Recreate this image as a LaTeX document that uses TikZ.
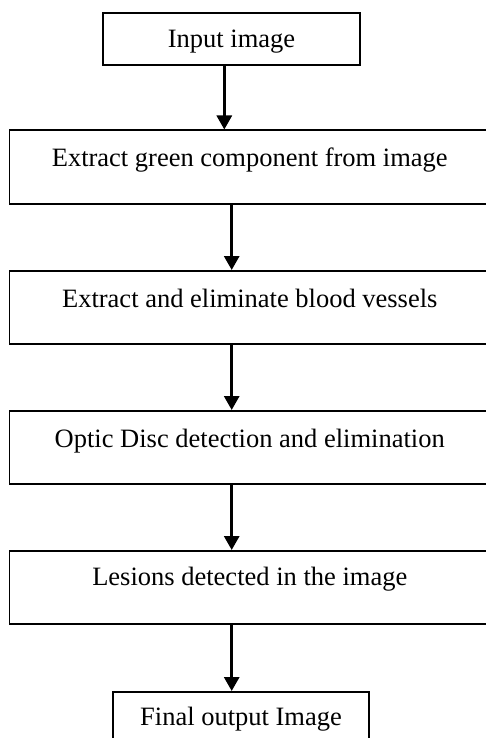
\documentclass[tikz,border=0pt]{standalone}
\usepackage{fontspec}
\setmainfont{Liberation Serif}
\usetikzlibrary{arrows.meta}
\begin{document}
\begin{tikzpicture}[x=1pt,y=1pt,
  boxa/.style={draw=black,line width=1.8pt,inner sep=0pt,anchor=north,
    font=\fontsize{26.5}{30}\selectfont},
  arr/.style={line width=3pt,-{Triangle[width=15pt,length=14pt]}}]
\useasboundingbox (0,0) rectangle (485,-738);
\fill[white] (0,0) rectangle (485,-738);
\node[boxa,minimum width=257pt,text height=34.4pt,text depth=17.3pt] (b1) at (231.5,-12.3) {Input image};
\node[boxa,minimum width=480.5pt,text height=36.5pt,text depth=37.3pt] (b2) at (249.75,-129.5) {Extract green component from image};
\node[boxa,minimum width=480.5pt,text height=37pt,text depth=36pt] (b3) at (249.75,-270) {Extract and eliminate blood vessels};
\node[boxa,minimum width=480.5pt,text height=36.7pt,text depth=36.3pt] (b4) at (249.75,-410) {Optic Disc detection and elimination};
\node[boxa,minimum width=480.5pt,text height=35pt,text depth=38pt] (b5) at (249.75,-550) {Lesions detected in the image};
\node[boxa,minimum width=256pt,text height=34pt,text depth=25pt] (b6) at (241,-691) {Final output Image};
\coordinate (xa) at (224.3,0);
\coordinate (xb) at (231.7,0);
\draw[arr] (b1.south -| xa) -- (b2.north -| xa);
\draw[arr] (b2.south -| xb) -- (b3.north -| xb);
\draw[arr] (b3.south -| xb) -- (b4.north -| xb);
\draw[arr] (b4.south -| xb) -- (b5.north -| xb);
\draw[arr] (b5.south -| xb) -- (b6.north -| xb);
\end{tikzpicture}
\end{document}
